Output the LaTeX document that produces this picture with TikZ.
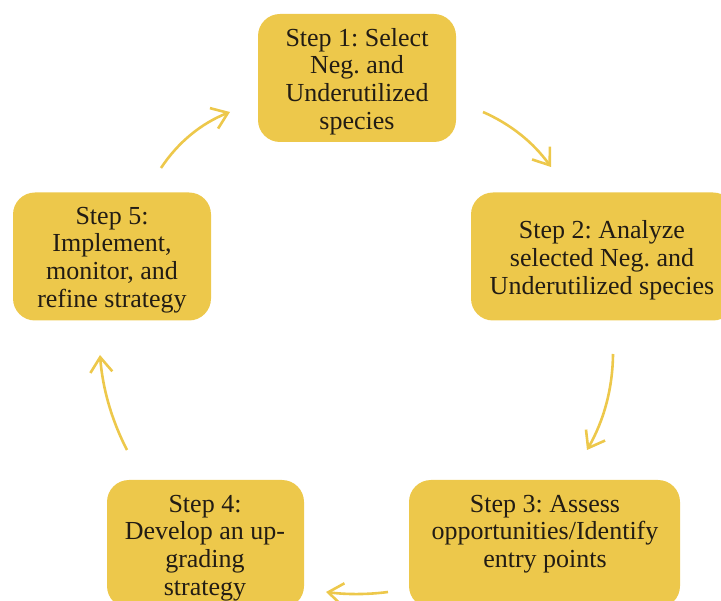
\documentclass[tikz,border=0pt]{standalone}
\usepackage{fontspec}
\setmainfont{Liberation Serif}
\usetikzlibrary{arrows.meta,calc}
\definecolor{stepfill}{HTML}{EDC84B}
\definecolor{steptext}{HTML}{221C14}
\frenchspacing
\begin{document}
\begin{tikzpicture}[x=1pt,y=-1pt,
  stepbox/.style={draw=none, fill=stepfill, rounded corners=22pt,
    minimum width=#1, minimum height=128pt, inner sep=0pt},
  steplabel/.style={text=steptext, align=center, inner sep=0pt,
    font=\fontsize{26}{27.8}\selectfont},
  flow/.style={draw=stepfill, line width=2.6pt,
    -{Straight Barb[length=15pt,width=22pt,line width=2.6pt]}}]
\useasboundingbox (0,0) rectangle (721,601);
\clip (0,0) rectangle (721,601);

% step boxes
\node[stepbox=198pt] (s1) at (357,78) {};
\node[stepbox=264pt] (s2) at (603,256.5) {};
\node[stepbox=271pt] (s3) at (544.5,544) {};
\node[stepbox=197pt] (s4) at (205.5,544) {};
\node[stepbox=198pt] (s5) at (112,256.5) {};

% step texts
\node[steplabel] (t1) at (357,81.5) {Step 1: Select\\Neg. and\\Underutilized\\species};
\node[steplabel] (t2) at (602,260) {Step 2: Analyze\\selected Neg. and\\Underutilized species};
\node[steplabel] (t3) at (545,534) {Step 3: Assess\\opportunities/Identify\\entry points};
\node[steplabel] (t4) at (205,548) {Step 4:\\Develop an up-\\grading\\strategy};
\node[steplabel] (t5) at (112,260) {Step 5:\\Implement,\\monitor, and\\refine strategy};

% arrow ends and bend points of the cycle
\coordinate (a1s) at (161,168);  \coordinate (a1q) at (186.7,129.2); \coordinate (a1e) at (230,112);
\coordinate (a2s) at (483,112);  \coordinate (a2q) at (524.5,130.2); \coordinate (a2e) at (551,167);
\coordinate (a3s) at (613,354);  \coordinate (a3q) at (612.5,405.4); \coordinate (a3e) at (587,450);
\coordinate (a4s) at (388,592);  \coordinate (a4q) at (357,596);     \coordinate (a4e) at (326,592);
\coordinate (a5s) at (127,450);  \coordinate (a5q) at (103.9,405.2); \coordinate (a5e) at (100,355);

% each arrow is a quadratic arc written as a cubic
\foreach \a in {a1,a2,a3,a4,a5}
  \draw[flow] (\a s) .. controls ($(\a s)!2/3!(\a q)$) and ($(\a e)!2/3!(\a q)$) .. (\a e);
\end{tikzpicture}
\end{document}
